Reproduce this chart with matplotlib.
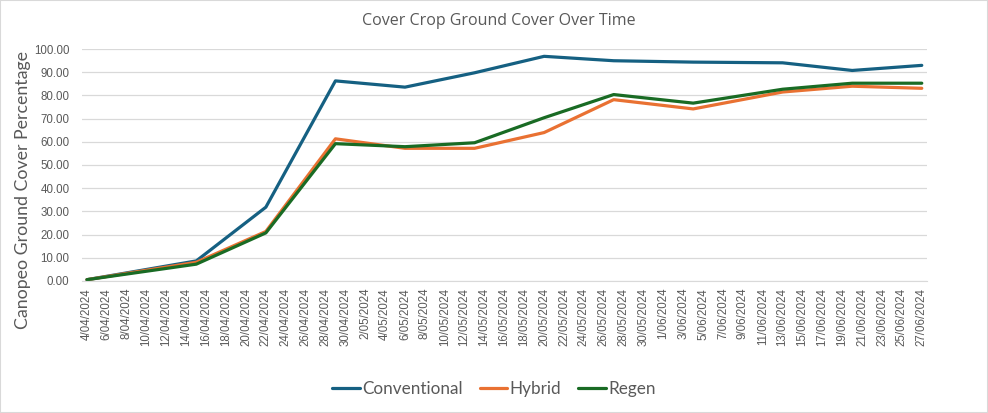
import matplotlib
matplotlib.use("Agg")
import matplotlib.pyplot as plt
from matplotlib.ticker import FuncFormatter, MultipleLocator
import datetime as dt

dates = ["2024-04-04", "2024-04-15", "2024-04-22", "2024-04-29", "2024-05-06", "2024-05-13",
         "2024-05-20", "2024-05-27", "2024-06-04", "2024-06-13", "2024-06-20", "2024-06-27"]
conventional = [0.5, 8.6, 31.8, 86.3, 83.6, 89.8, 96.9, 95.0, 94.4, 94.1, 90.8, 93.0]
hybrid = [0.5, 8.0, 21.3, 61.3, 57.2, 57.2, 64.0, 78.2, 74.2, 81.5, 84.0, 83.1]
regen = [0.5, 7.2, 20.7, 59.2, 57.9, 59.6, 70.4, 80.4, 76.7, 82.7, 85.3, 85.3]
series_names = ["Conventional", "Hybrid", "Regen"]
colors = ["#156082", "#E97132", "#196B24"]

x = [dt.datetime.strptime(d, "%Y-%m-%d") for d in dates]

plt.rcParams['font.family'] = ['Liberation Sans', 'DejaVu Sans']
fig = plt.figure(figsize=(9.88, 4.13), dpi=100)
ax = fig.add_axes([0.083, 0.320, 0.855, 0.561])

for vals, name, c in zip([conventional, hybrid, regen], series_names, colors):
    ax.plot(x, vals, color=c, lw=2.3, label=name, solid_capstyle='round', solid_joinstyle='round')

start = x[0] - dt.timedelta(hours=12)
end = x[-1] + dt.timedelta(hours=12)
ax.set_xlim(start, end)
ax.set_ylim(0, 100)
ax.yaxis.set_major_locator(MultipleLocator(10))
ax.yaxis.set_major_formatter(FuncFormatter(lambda v, p: f"{v:.2f}"))

ticks = []
t = x[0]
while t <= x[-1]:
    ticks.append(t)
    t += dt.timedelta(days=2)
ax.set_xticks(ticks)
ax.set_xticklabels([f"{d.day}/{d.month:02d}/{d.year}" for d in ticks], rotation=90)

ax.grid(axis='y', color='#d9d9d9', lw=0.9)
ax.set_axisbelow(True)
for s in ['top', 'right', 'left']:
    ax.spines[s].set_visible(False)
ax.spines['bottom'].set_color('#d9d9d9')
ax.tick_params(axis='both', length=0, colors='#595959', labelsize=8.3)
ax.tick_params(axis='y', pad=9)
ax.tick_params(axis='x', pad=5)

fig.text(23 / 988, 1 - 190 / 413, "Canopeo Ground Cover Percentage", rotation=90,
         ha='center', va='center', fontsize=12.8, color='#595959', family=['Lato', 'DejaVu Sans'])
fig.text(0.505, 0.948, "Cover Crop Ground Cover Over Time", ha='center', va='center',
         fontsize=11.5, color='#595959', family=['Open Sans', 'DejaVu Sans'])

leg = fig.legend(loc='center', bbox_to_anchor=(0.5, 0.058), ncol=3, frameon=False,
                 prop={'family': ['Lato', 'DejaVu Sans'], 'size': 12.3},
                 handlelength=1.6, handletextpad=0.15, columnspacing=1.0)
for txt in leg.get_texts():
    txt.set_color('#595959')

fig.patches.append(plt.Rectangle((0, 0), 1, 1, transform=fig.transFigure, fill=False,
                                 edgecolor='#d9d9d9', lw=1.5))
fig.savefig("out.png", dpi=100)
